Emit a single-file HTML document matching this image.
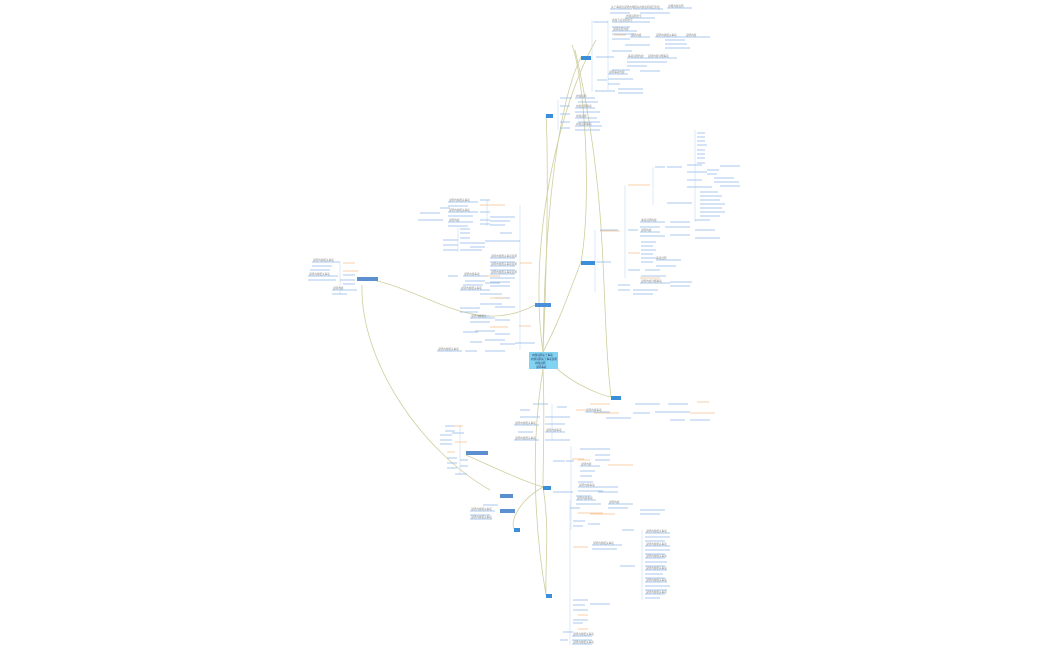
<!DOCTYPE html>
<html><head><meta charset="utf-8"><style>
html,body{margin:0;padding:0;background:#fff;width:1050px;height:650px;overflow:hidden}
svg{display:block}
text{font-family:"Liberation Sans",sans-serif;font-size:2.6px;fill:#888}
</style></head><body>
<svg width="1050" height="650" viewBox="0 0 1050 650" xmlns="http://www.w3.org/2000/svg">
<g fill="none" stroke="#cfcf9f" stroke-width="0.8">
<path d="M543 352 C545 200 560 100 581 57"/>
<path d="M543 352 C528 250 556 110 596 40"/>
<path d="M543 352 C548 250 548 150 546 115"/>
<path d="M543 352 C560 320 570 290 581 262"/>
<path d="M581 262 C592 200 585 80 572 45"/>
<path d="M357 278 C420 282 470 340 535 305"/>
<path d="M362 285 C360 360 420 450 490 490"/>
<path d="M543 352 C560 380 600 395 611 397"/>
<path d="M543 369 C545 420 543 460 543 487"/>
<path d="M543 369 C528 460 538 550 546 595"/>
<path d="M543 487 C520 500 510 520 514 529"/>
<path d="M575 50 C610 200 600 300 611 397"/>
<path d="M466 455 C500 470 520 480 543 487"/>
<path d="M543 487 C550 530 545 560 546 595"/>
</g>
<g fill="none" stroke="#c6dcf2" stroke-width="0.6">
<path d="M592 57 V20 M592 57 V92 M608 20 V90 M558 100 V130 M595 262 V230 M595 262 V292 M625 185 V278 M653 167 V205 M695 130 V222 M520 205 V350 M487 200 V226 M458 228 V252 M340 262 V295 M552 404 V440 M571 446 V530 M570 500 V645 M642 530 V600 M460 425 V475"/>
</g>
<g fill="none" stroke="#8fb9e6" stroke-width="0.7">
<path d="M610 9h22 M633 9h30 M667 8h25 M610 13h20 M640 13h30 M612 22h30 M612 27h18 M625 18h30 M625 22h25 M612 31h25 M612 34h22 M612 39h18 M630 37h20 M655 37h30 M685 37h25 M625 45h25 M665 40h20 M665 44h22 M665 48h25 M612 51h20 M627 58h20 M627 62h25 M647 58h30 M647 62h20 M627 66h20 M612 70h18 M640 71h20 M608 74h20 M608 79h25 M608 84h12 M595 91h20 M618 89h25 M618 93h25 M593 22h15 M596 57h18 M597 80h10"/>
<path d="M560 98h12 M560 106h10 M560 114h10 M560 122h10 M560 128h10 M575 98h20 M578 102h20 M575 108h20 M575 112h25 M575 118h22 M578 122h22 M575 126h27 M575 130h25"/>
<path d="M697 133h8 M697 137h8 M697 141h8 M697 145h10 M697 150h8 M697 154h8 M697 158h8 M697 163h8 M655 167h10 M667 167h15 M687 165h15 M720 166h20 M687 172h20 M707 170h12 M707 174h10 M687 180h15 M714 178h20 M714 182h25 M720 186h20 M687 187h25 M700 192h18 M700 196h22 M667 203h25 M700 200h20 M700 204h25 M700 208h22 M700 212h25 M700 216h20 M695 220h15 M640 222h25 M670 222h20 M640 227h20 M665 227h25 M640 232h20 M640 236h25 M670 235h20 M695 230h20 M695 238h25 M628 230h10 M641 242h15 M641 246h12 M641 250h15 M641 254h12 M641 258h15 M641 262h12 M656 260h25 M656 266h20 M645 270h15 M628 270h12 M641 276h25 M618 285h12 M640 283h30 M670 282h22 M670 286h20 M618 290h12 M633 290h25 M633 294h20 M600 230h18 M596 262h15"/>
<path d="M448 202h30 M448 206h20 M480 200h10 M440 208h10 M448 212h30 M448 216h25 M480 212h10 M420 213h20 M448 222h25 M448 226h20 M480 220h10 M418 220h25 M490 217h25 M490 221h20 M490 225h15 M460 229h10 M460 233h10 M460 238h10 M460 243h10 M443 240h15 M443 245h15 M443 250h15 M460 250h12 M470 250h12 M500 233h12 M485 241h20 M505 241h15 M470 243h15 M470 247h15 M490 258h25 M490 262h25 M490 266h25 M490 270h25 M490 274h25 M490 278h25 M490 282h20 M448 276h10 M463 276h25 M465 281h20 M463 285h20 M485 283h15 M490 286h20 M460 290h30 M480 294h22 M495 298h15 M480 304h22 M495 307h20 M460 308h20 M460 312h18 M478 316h12 M470 318h25 M470 322h20 M495 320h15 M475 331h20 M463 332h15 M495 334h15 M485 340h20 M470 342h12 M500 344h15 M437 351h25 M465 351h12 M485 351h20 M515 343h20 M480 224h10"/>
<path d="M312 262h28 M312 266h20 M310 270h20 M343 275h12 M340 280h15 M308 276h30 M308 280h28 M343 284h12 M332 290h25 M332 294h15"/>
<path d="M533 404h15 M520 410h10 M557 407h10 M585 412h25 M520 417h20 M545 417h25 M606 418h25 M514 425h25 M545 424h20 M518 432h15 M545 432h20 M514 440h25 M545 440h25 M633 413h8 M640 413h10 M655 412h10 M665 412h25 M635 404h25 M668 404h20 M670 420h15 M690 420h20"/>
<path d="M553 461h12 M566 461h8 M580 449h15 M595 449h15 M595 455h15 M595 460h15 M580 466h20 M580 471h15 M580 476h12 M578 482h15 M578 487h20 M578 491h25 M598 487h20 M598 492h20 M576 496h15 M576 500h20 M576 504h25 M553 492h20 M570 508h10 M608 504h25 M608 508h20 M640 510h25 M640 514h20 M573 521h12 M588 524h12 M573 526h10"/>
<path d="M445 426h10 M445 431h10 M440 435h12 M440 440h12 M440 444h12 M452 433h12 M447 458h10 M447 463h10 M447 468h10 M455 474h12 M460 460h8 M460 466h8 M483 505h15 M470 511h25 M470 515h20 M470 519h22"/>
<path d="M592 545h30 M592 549h25 M622 530h12 M620 566h15 M645 533h25 M645 537h25 M645 541h20 M645 546h25 M645 550h25 M645 554h20 M645 558h20 M645 562h22 M645 566h20 M645 570h22 M645 574h18 M645 578h20 M645 582h22 M645 586h25 M645 590h22 M645 594h20 M645 598h15 M573 600h15 M590 604h20 M573 605h12 M573 610h15 M573 620h15 M573 623h10 M563 632h10 M572 636h20 M572 640h20 M572 644h20 M560 640h8"/>
</g>
<g fill="none" stroke="#f5c08a" stroke-width="0.7">
<path d="M628 185h22 M600 231h20 M628 253h12 M614 35h12 M640 278h20 M697 402h12 M690 413h25 M576 410h10 M590 404h20 M572 459h12 M578 460h12 M594 413h25 M608 465h25 M578 513h25 M590 514h25 M573 547h15 M578 615h10 M578 629h10 M343 263h12 M343 271h15 M480 205h25 M520 263h12 M490 327h18 M519 326h12 M490 298h15 M485 276h15 M453 426h10 M455 442h12 M447 452h8"/>
</g>
<g>
<text x="611" y="8">关于事项的说明内容</text><text x="634" y="8">相关内容说明项目列表</text><text x="668" y="7">详细内容说明</text>
<text x="612" y="21">内容节点说明文字</text><text x="626" y="17">内容说明文字</text><text x="613" y="30">说明项目内容</text>
<text x="631" y="36">说明内容</text><text x="656" y="36">说明内容相关事项</text><text x="686" y="36">说明内容</text>
<text x="628" y="57">事项说明内容</text><text x="648" y="57">说明内容详细事项</text><text x="609" y="73">说明事项内容</text>
<text x="576" y="97">内容说明</text><text x="576" y="107">内容说明事项</text><text x="576" y="117">内容说明</text><text x="576" y="125">内容说明事项</text>
<text x="641" y="221">事项说明内容</text><text x="641" y="231">说明内容</text><text x="656" y="259">事项说明</text><text x="641" y="282">说明内容详细事项</text>
<text x="449" y="201">说明内容相关事项</text><text x="449" y="211">说明内容相关事项</text><text x="449" y="221">说明内容</text>
<text x="491" y="257">说明内容相关事项说明</text><text x="491" y="265">说明内容相关事项说明</text><text x="491" y="273">说明内容相关事项说明</text>
<text x="464" y="275">说明内容事项</text><text x="461" y="289">说明内容相关事项</text><text x="471" y="317">说明内容相关</text><text x="438" y="350">说明内容相关事项</text>
<text x="313" y="261">说明内容相关事项</text><text x="309" y="275">说明内容相关事项</text><text x="333" y="289">说明内容</text>
<text x="586" y="411">说明内容事项</text><text x="515" y="424">说明内容相关事项</text><text x="546" y="431">说明内容事项</text><text x="515" y="439">说明内容相关事项</text>
<text x="581" y="465">说明内容</text><text x="579" y="486">说明内容事项</text><text x="577" y="499">说明内容事项</text><text x="609" y="503">说明内容</text>
<text x="646" y="532">说明内容相关事项</text><text x="646" y="545">说明内容相关事项</text><text x="646" y="557">说明内容相关事项</text><text x="646" y="569">说明内容相关事项</text><text x="646" y="581">说明内容相关事项</text><text x="646" y="593">说明内容相关事项</text>
<text x="593" y="544">说明内容相关事项</text><text x="573" y="635">说明内容相关事项</text><text x="573" y="643">说明内容相关事项</text>
<text x="471" y="510">说明内容相关事项</text><text x="471" y="518">说明内容相关事项</text>
</g>
<g fill="#3a8fd8">
<rect x="581" y="56" width="10" height="4"/>
<rect x="546" y="114" width="7" height="4"/>
<rect x="581" y="261" width="14" height="4"/>
<rect x="535" y="303" width="16" height="4" fill="#4a90d9"/>
<rect x="357" y="277" width="21" height="4" fill="#5b8fd0"/>
<rect x="611" y="396" width="10" height="4"/>
<rect x="543" y="486" width="8" height="4"/>
<rect x="466" y="451" width="22" height="4" fill="#5b8fd0"/>
<rect x="500" y="494" width="13" height="4" fill="#5b8fd0"/>
<rect x="500" y="509" width="15" height="4" fill="#5b8fd0"/>
<rect x="514" y="528" width="6" height="4"/>
<rect x="546" y="594" width="6" height="4"/>
</g>
<rect x="529" y="352" width="29" height="17" fill="#80d4f2"/>
<text x="532" y="356" style="fill:#336">内容说明关于事项</text>
<text x="531" y="360" style="fill:#336">内容说明关于事项说明</text>
<text x="535" y="364" style="fill:#336">内容说明</text>
<text x="536" y="368" style="fill:#336">说明事项</text>
</svg>
</body></html>
